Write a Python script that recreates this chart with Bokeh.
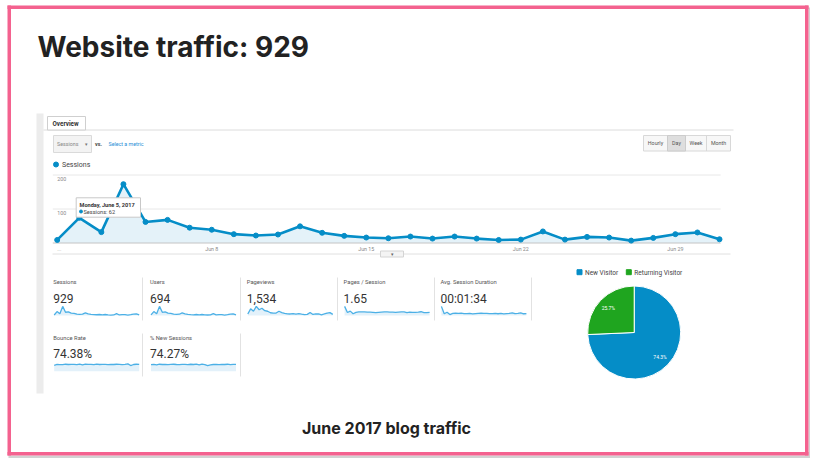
import math
from bokeh.plotting import figure
from bokeh.models import Range1d
from bokeh.core.properties import value
from bokeh.embed import file_html
from bokeh.resources import INLINE

# ---- data ----
title = "Website traffic: 929"
caption = "June 2017 blog traffic"

days = list(range(1, 32))  # Jun 1 .. Jul 1
sessions = [9, 74, 32, 173, 62, 68, 45, 39, 26, 22, 25, 49, 30, 21, 16, 14,
            19, 13, 19, 13, 9, 10, 34, 10, 18, 16, 7, 15, 26, 31, 11]
y_ticks = [100, 200]
x_tick_days = [8, 15, 22, 29]
x_tick_labels = ["Jun 8", "Jun 15", "Jun 22", "Jun 29"]
tooltip_day = 5
tooltip_date = "Monday, June 5, 2017"

users = [8, 55, 25, 128, 45, 50, 33, 29, 19, 16, 18, 36, 22, 15, 12, 10,
         14, 10, 14, 10, 7, 8, 25, 8, 13, 12, 5, 11, 19, 23, 8]
pageviews = [25, 110, 70, 150, 95, 120, 80, 70, 45, 38, 40, 70, 48, 35, 28, 25,
             32, 22, 30, 22, 16, 18, 50, 17, 28, 25, 12, 25, 40, 48, 18]
pages_per_session = [4.6, 1.5, 2.2, 0.9, 1.6, 1.8, 1.8, 1.8, 1.7, 1.7, 1.6, 1.4, 1.6, 1.7, 1.8, 1.8,
                     1.7, 1.7, 1.6, 1.7, 1.8, 1.8, 1.5, 1.7, 1.6, 1.6, 1.7, 1.9, 1.5, 1.5, 1.6]
avg_duration = [420, 80, 150, 45, 95, 110, 100, 105, 90, 85, 95, 70, 90, 100, 110, 95,
                100, 85, 90, 100, 80, 95, 70, 90, 100, 125, 85, 95, 120, 80, 90]
bounce_rate = [65, 74, 72, 71, 76, 73, 75, 74, 72, 78, 70, 76, 74, 75, 71, 77,
               73, 74, 75, 72, 74, 73, 76, 75, 71, 74, 80, 62, 73, 76, 74]
new_sessions = [72, 75, 70, 76, 73, 75, 72, 74, 76, 73, 71, 75, 74, 72, 76, 73,
                78, 70, 77, 72, 60, 68, 73, 75, 72, 74, 73, 76, 71, 74, 75]

tile_labels = ["Sessions", "Users", "Pageviews", "Pages / Session",
               "Avg. Session Duration", "Bounce Rate", "% New Sessions"]
tile_values = ["929", "694", "1,534", "1.65", "00:01:34", "74.38%", "74.27%"]
tile_series = [sessions, users, pageviews, pages_per_session, avg_duration,
               bounce_rate, new_sessions]
tile_is_rate = [False, False, False, False, False, True, True]

visitor_types = ["New Visitor", "Returning Visitor"]
visitor_share = [74.3, 25.7]
visitor_colors = ["#058dc7", "#1fa51f"]

BLUE = "#058dc7"
PINK = "#f4628f"

# ---- canvas in page pixels (figure sits at the page's top-left corner) ----
W, H = 812, 460


def X(v):
    return v


def Y(v):
    return H - v


p = figure(width=W, height=H, x_range=Range1d(0, W), y_range=Range1d(0, H),
           x_axis_location=None, y_axis_location=None,
           toolbar_location=None, output_backend="svg", min_border=0)
p.grid.visible = False
p.outline_line_color = None
p.background_fill_color = "white"


def label(x, y, s, size, color="#555", bold=False, align="left", base="middle", font="Roboto"):
    p.text(x=[X(x)], y=[Y(y)], text=[s], text_font=value(font),
           text_font_size=f"{size}px", text_font_style="bold" if bold else "normal",
           text_color=color, text_align=align, text_baseline=base)


def box(x0, y0, x1, y1, fill, line=None):
    p.quad(left=X(x0), right=X(x1), top=Y(y0), bottom=Y(y1),
           fill_color=fill, line_color=line, line_width=1)


def hline(x0, x1, y, color="#ddd", w=1):
    p.segment(x0=X(x0), y0=Y(y), x1=X(x1), y1=Y(y), line_color=color, line_width=w)


def vline(x, y0, y1, color="#e2e2e2", w=1):
    p.segment(x0=X(x), y0=Y(y0), x1=X(x), y1=Y(y1), line_color=color, line_width=w)


# slide frame
box(8, 455, 809, 457.5, "#d2d2d2")
box(808, 7, 809.5, 457.5, "#d2d2d2")
box(7, 5, 10.5, 455, PINK)
box(7, 5, 808, 8.5, PINK)
box(804.5, 5, 808, 455, PINK)
box(7, 451.5, 808, 455, PINK)

label(37, 46, title, 28, "#222", bold=True, base="alphabetic", font="Inter")
label(386, 427, caption, 16, "#222", bold=True, align="center", base="alphabetic", font="Inter")

# GA screenshot chrome
box(36, 113, 43, 393, "#ececec")
hline(43, 733, 129.5, "#dcdcdc")
box(47, 116, 85, 129.5, "white", "#cfcfcf")
label(52, 123, "Overview", 6.3, "#333", bold=True)

box(53, 135, 91, 152, "#f3f3f3", "#dadada")
label(56.5, 143.5, "Sessions", 5.3, "#888")
label(84, 143.5, "▾", 5, "#777")
label(94.5, 143, "vs.", 5.3, "#444", bold=True)
label(108, 143.5, "Select a metric", 5.3, "#2b8fd6")

box(643, 135, 730, 150.5, "#f7f7f7", "#d8d8d8")
box(667, 135, 685, 150.5, "#dedede", "#cccccc")
vline(706, 135, 150.5, "#d8d8d8")
for cx, s in zip([655, 676, 695.5, 718], ["Hourly", "Day", "Week", "Month"]):
    label(cx, 142.7, s, 5.3, "#555", align="center")

p.scatter(x=[X(55.5)], y=[Y(164)], size=5, color=BLUE)
label(61.5, 164.5, "Sessions", 7, "#444")

# main sessions chart
main = p.subplot(x_source=Range1d(1, 31), y_source=Range1d(0, 200),
                 x_target=Range1d(X(56.7), X(719)), y_target=Range1d(Y(242.5), Y(174.5)))
grid_left, grid_right = 0.8, 31.05
main.segment(x0=[grid_left] * len(y_ticks), x1=[grid_right] * len(y_ticks),
             y0=y_ticks, y1=y_ticks, line_color="#e8e8e8", line_width=1)
main.varea(x=days, y1=[0] * len(days), y2=sessions, fill_color="#e4f2f9")
main.segment(x0=[grid_left], x1=[grid_right], y0=[0], y1=[0], line_color="#c4c4c4", line_width=1)
main.text(x=[days[0]] * len(y_ticks), y=y_ticks, text=[str(t) for t in y_ticks],
          x_offset=0, y_offset=2, text_baseline="top", text_font=value("Roboto"),
          text_font_size="5.3px", text_color="#888")
main.text(x=x_tick_days, y=[0] * len(x_tick_days), text=x_tick_labels,
          y_offset=6, text_align="center", text_baseline="middle",
          text_font=value("Roboto"), text_font_size="5.3px", text_color="#888")
main.text(x=[days[0]], y=[0], text=["..."], y_offset=6, text_baseline="middle",
          text_font=value("Roboto"), text_font_size="5.3px", text_color="#999")
main.line(x=days, y=sessions, line_color=BLUE, line_width=2.6)
main.scatter(x=days, y=sessions, size=5, color=BLUE)

# tooltip
box(75.7, 197.3, 140, 216.7, "white", "#c8c8c8")
label(79, 204, tooltip_date, 5.6, "#333", bold=True)
p.scatter(x=[X(80.5)], y=[Y(211)], size=3, color=BLUE)
label(83, 211, f"Sessions: {sessions[tooltip_day - 1]}", 5.6, "#444")

hline(52, 730, 253.5, "#e0e0e0")
box(380, 250.5, 403, 256.5, "#f4f4f4", "#d4d4d4")
label(391.5, 253.5, "▾", 4.5, "#666", align="center")

# metric tiles with sparklines
tile_x = [52.7 + 96.8 * i for i in range(5)]
for i, (name, val, series, rate) in enumerate(zip(tile_labels, tile_values, tile_series, tile_is_rate)):
    row, col = divmod(i, 5)
    x0 = tile_x[col]
    dy = 55.8 * row
    label(x0, 281.7 + dy, name, 5.8, "#555")
    label(x0, 298 + dy, val, 12, "#333")
    base = 315 + dy
    top = base - 9.3
    ymax = 100 if rate else max(series) * 1.02
    sp = p.subplot(x_source=Range1d(1, 31), y_source=Range1d(0, ymax),
                   x_target=Range1d(X(x0 + 1), X(x0 + 86)), y_target=Range1d(Y(base), Y(top)))
    sp.varea(x=days, y1=[0] * len(days), y2=series, fill_color="#e3f1fa")
    sp.line(x=days, y=series, line_color="#4cb0e6", line_width=1.3)

for sx in [142, 240, 337, 434, 531]:
    vline(sx, 277, 320)
for sx in [142, 240]:
    vline(sx, 333, 376)

# visitor pie
cx, cy, r = X(633.7), Y(332), 46.5
start = math.pi / 2
total = sum(visitor_share)
starts, ends, mids = [], [], []
for share in visitor_share:
    sweep = share / total * 2 * math.pi
    starts.append(start)
    ends.append(start - sweep)
    mids.append(start - sweep / 2)
    start -= sweep
p.wedge(x=[cx] * 2, y=[cy] * 2, radius=r, radius_units="screen", start_angle=starts,
        end_angle=ends, direction="clock", fill_color=visitor_colors,
        line_color="white", line_width=1)
lr = r * 0.77
p.text(x=[cx + lr * math.cos(m) for m in mids], y=[cy + lr * math.sin(m) for m in mids],
       text=[f"{s:.1f}%" for s in visitor_share], text_align="center", text_baseline="middle",
       text_font=value("Roboto"), text_font_size="5px", text_color="white")

leg_x = [579, 628.3]
for lx, name, c in zip(leg_x, visitor_types, visitor_colors):
    p.scatter(x=[X(lx)], y=[Y(271.7)], size=5, marker="square", color=c)
    label(lx + 5.5, 272, name, 6.5, "#444")

open("out.html", "w").write(file_html(p, INLINE))
